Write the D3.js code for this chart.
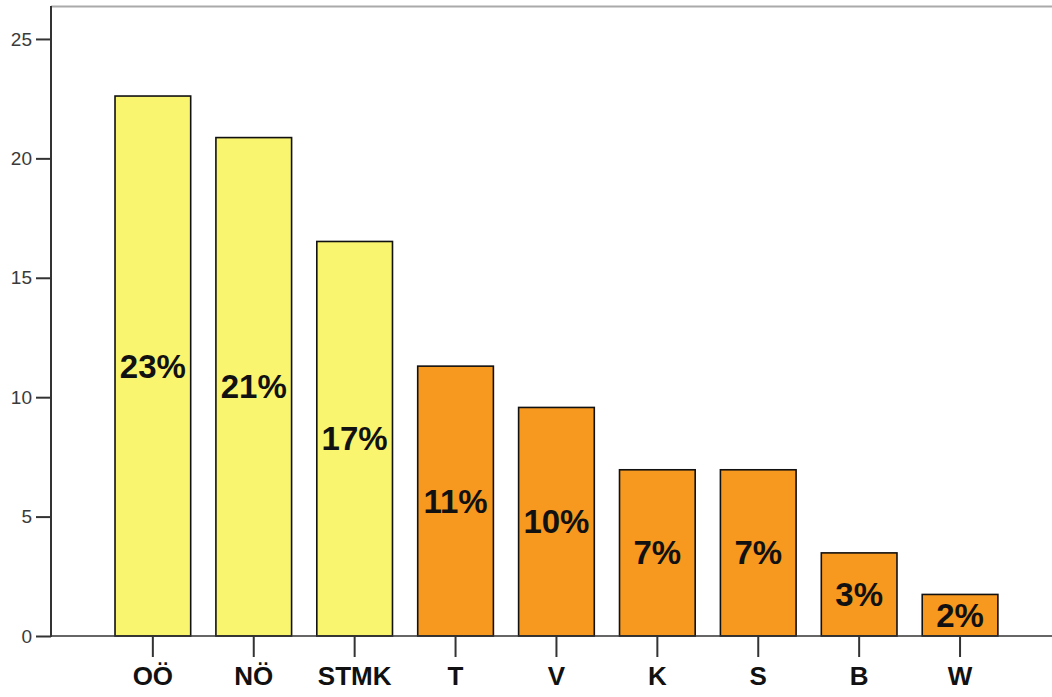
<!DOCTYPE html>
<html>
<head>
<meta charset="utf-8">
<script src="https://cdn.jsdelivr.net/npm/d3@7"></script>
<style>
  html, body { margin: 0; padding: 0; background: #fff; }
  svg { display: block; }
  text { font-family: "Liberation Sans", Arial, sans-serif; }
</style>
</head>
<body>
<svg id="chart" width="1052" height="697"></svg>
<script>
// Share of respondents per federal state (percent)
const categories = ["OÖ", "NÖ", "STMK", "T", "V", "K", "S", "B", "W"];
const values = [22.61, 20.87, 16.52, 11.30, 9.57, 6.96, 6.96, 3.48, 1.74];
const groups = ["a", "a", "a", "b", "b", "b", "b", "b", "b"];
const yTicks = [0, 5, 10, 15, 20, 25];

const W = 1052, H = 697;
const svg = d3.select("#chart");

const plotLeft = 51, plotTop = 6, plotBottom = 636;

const y = d3.scaleLinear().domain([0, 26.38]).range([plotBottom, plotTop]);
const x = d3.scaleBand()
  .domain(categories)
  .range([102.4, 1010.5])
  .paddingInner(0.25)
  .paddingOuter(0.125);

const fillOf = d3.scaleOrdinal().domain(["a", "b"]).range(["#f9f56f", "#f7981f"]);

// top frame line
svg.append("line")
  .attr("x1", plotLeft).attr("x2", W)
  .attr("y1", plotTop + 0.5).attr("y2", plotTop + 0.5)
  .attr("stroke", "#aaa").attr("stroke-width", 2);

// bars
const bars = svg.append("g");
bars.selectAll("rect")
  .data(categories)
  .join("rect")
  .attr("x", d => x(d))
  .attr("y", (d, i) => y(values[i]))
  .attr("width", x.bandwidth())
  .attr("height", (d, i) => y(0) - y(values[i]))
  .attr("fill", (d, i) => fillOf(groups[i]))
  .attr("stroke", "#111")
  .attr("stroke-width", 1.6);

// percent labels centred in each bar
bars.selectAll("text")
  .data(categories)
  .join("text")
  .attr("x", d => x(d) + x.bandwidth() / 2)
  .attr("y", (d, i) => (y(values[i]) + y(0)) / 2)
  .attr("text-anchor", "middle")
  .attr("dominant-baseline", "central")
  .attr("font-size", 33)
  .attr("font-weight", "bold")
  .attr("fill", "#111")
  .text((d, i) => d3.format(".0f")(values[i]) + "%");

// y axis
const yAxis = svg.append("g")
  .attr("transform", `translate(${plotLeft},0)`)
  .call(d3.axisLeft(y).tickValues(yTicks).tickSize(15).tickPadding(4).tickSizeOuter(0));
yAxis.select(".domain").remove();
yAxis.selectAll(".tick line").attr("stroke", "#333").attr("stroke-width", 2);
yAxis.selectAll(".tick text")
  .attr("font-size", 19)
  .attr("fill", "#3a3a3a")
  .style("font-family", "'Liberation Sans', Arial, sans-serif");
svg.append("line")
  .attr("x1", plotLeft).attr("x2", plotLeft)
  .attr("y1", plotTop).attr("y2", plotBottom + 1)
  .attr("stroke", "#333").attr("stroke-width", 2);

// x axis
const xAxis = svg.append("g")
  .attr("transform", `translate(0,${plotBottom})`)
  .call(d3.axisBottom(x).tickSize(21).tickPadding(10).tickSizeOuter(0));
xAxis.select(".domain").remove();
xAxis.selectAll(".tick line").attr("stroke", "#333").attr("stroke-width", 2);
xAxis.selectAll(".tick text")
  .attr("font-size", 26)
  .attr("font-weight", "bold")
  .attr("fill", "#111")
  .style("font-family", "'Liberation Sans', Arial, sans-serif");
svg.append("line")
  .attr("x1", plotLeft).attr("x2", W)
  .attr("y1", plotBottom).attr("y2", plotBottom)
  .attr("stroke", "#333").attr("stroke-width", 1.5);
</script>
</body>
</html>
